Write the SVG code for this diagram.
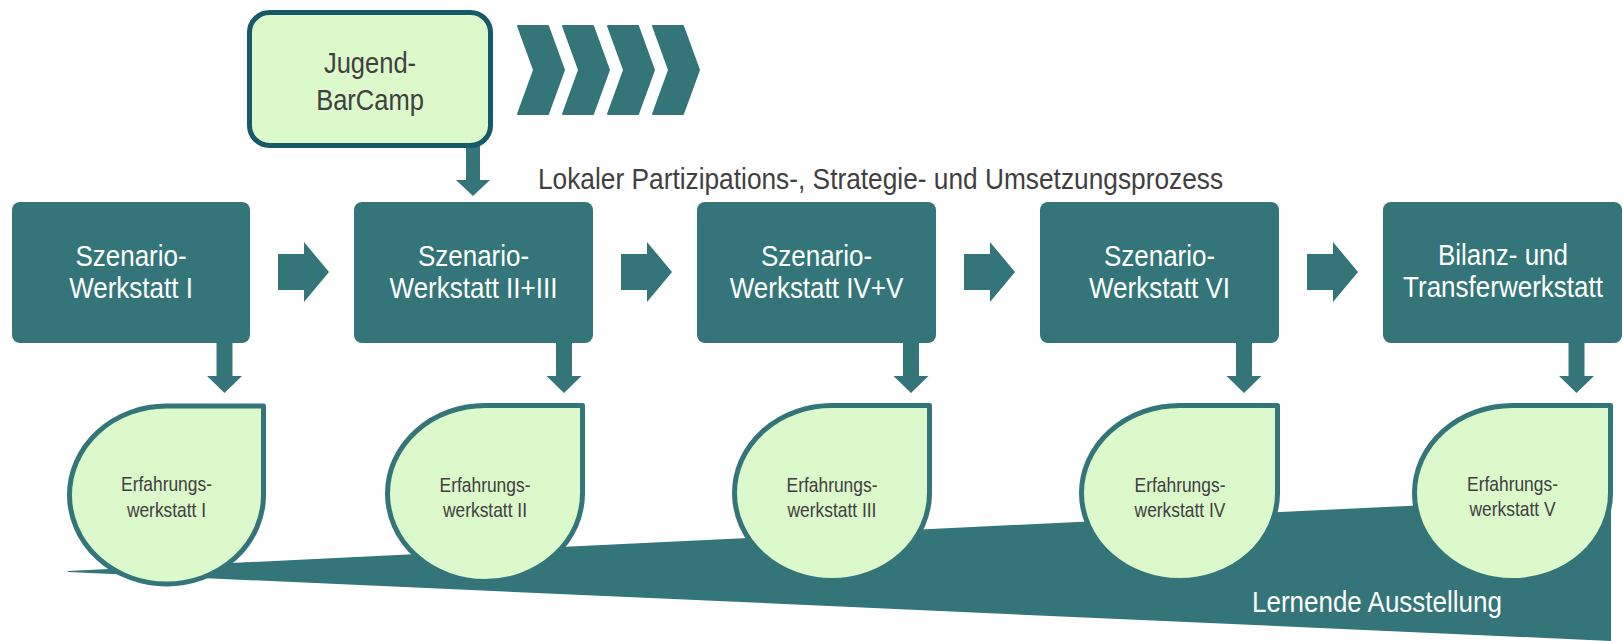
<svg xmlns="http://www.w3.org/2000/svg" width="1623" height="641" viewBox="0 0 1623 641">
<style>
.box{fill:#347579}
.tear{fill:#DBF9CA;stroke:#347579;stroke-width:5;stroke-linejoin:round}
.arr{fill:#347579}
.chev{fill:#347579;stroke:#347579;stroke-width:2;stroke-linejoin:round}
.wt{font-family:"Liberation Sans",Arial,sans-serif;font-size:26px;fill:#FFFFFF;text-anchor:middle}
.gt{font-family:"Liberation Sans",Arial,sans-serif;fill:#404040;text-anchor:middle}
.st{font-size:17.4px}
</style>
<rect width="1623" height="641" fill="#FFFFFF"/>
<g id="ribbon">
<polygon class="arr" points="68,571 1611,496 1611,641 68,572"/>
<text class="wt" style="text-anchor:start" transform="translate(1252,611.5) scale(1,1.15)" x="0" y="0">Lernende Ausstellung</text>
</g>
<g id="chevrons">
<polygon class="chev" points="518,26 548,26 564,70 548,114 518,114 534,70"/>
<polygon class="chev" points="563,26 593,26 609,70 593,114 563,114 579,70"/>
<polygon class="chev" points="608,26 638,26 654,70 638,114 608,114 624,70"/>
<polygon class="chev" points="653,26 683,26 699,70 683,114 653,114 669,70"/>
</g>
<g id="process-label">
<text class="gt" style="text-anchor:start;font-size:26.3px" transform="translate(538,188.5) scale(1,1.1)" x="0" y="0">Lokaler Partizipations-, Strategie- und Umsetzungsprozess</text>
</g>
<g id="connectors">
<polygon class="arr" points="466,145 480,145 480,180 490,180 473,196 456,180 466,180"/>
<polygon class="arr" points="278,254 304,254 304,242 329,272 304,302 304,290 278,290"/>
<polygon class="arr" points="621,254 647,254 647,242 672,272 647,302 647,290 621,290"/>
<polygon class="arr" points="964,254 990,254 990,242 1015,272 990,302 990,290 964,290"/>
<polygon class="arr" points="1307,254 1333,254 1333,242 1358,272 1333,302 1333,290 1307,290"/>
<polygon class="arr" points="216.5,343 232.5,343 232.5,376 242,376 224.5,393 207,376 216.5,376"/>
<polygon class="arr" points="556,343 572,343 572,376 581.5,376 564,393 546.5,376 556,376"/>
<polygon class="arr" points="903,343 919,343 919,376 928.5,376 911,393 893.5,376 903,376"/>
<polygon class="arr" points="1236,343 1252,343 1252,376 1261.5,376 1244,393 1226.5,376 1236,376"/>
<polygon class="arr" points="1568.5,343 1584.5,343 1584.5,376 1594,376 1576.5,393 1559,376 1568.5,376"/>
</g>
<g id="jugend-barcamp">
<rect x="249.5" y="12.5" width="241" height="133" rx="20" fill="#DBF9CA" stroke="#165A69" stroke-width="5"/>
<text class="gt" style="font-size:25.5px" transform="translate(370,73) scale(1,1.13)" x="0" y="0">Jugend-<tspan x="0" dy="32.7">BarCamp</tspan></text>
</g>
<g id="szenario-1">
<rect class="box" x="12" y="202" width="238" height="141" rx="8"/>
<text class="wt" transform="translate(131,266) scale(1,1.13)" x="0" y="0">Szenario-<tspan x="0" dy="28.3">Werkstatt I</tspan></text>
</g>
<g id="szenario-2">
<rect class="box" x="354" y="202" width="239" height="141" rx="8"/>
<text class="wt" transform="translate(473.5,266) scale(1,1.13)" x="0" y="0">Szenario-<tspan x="0" dy="28.3">Werkstatt II+III</tspan></text>
</g>
<g id="szenario-3">
<rect class="box" x="697" y="202" width="239" height="141" rx="8"/>
<text class="wt" transform="translate(816.5,266) scale(1,1.13)" x="0" y="0">Szenario-<tspan x="0" dy="28.3">Werkstatt IV+V</tspan></text>
</g>
<g id="szenario-4">
<rect class="box" x="1040" y="202" width="239" height="141" rx="8"/>
<text class="wt" transform="translate(1159.5,266) scale(1,1.13)" x="0" y="0">Szenario-<tspan x="0" dy="28.3">Werkstatt VI</tspan></text>
</g>
<g id="bilanz">
<rect class="box" x="1383" y="202" width="239" height="141" rx="8"/>
<text class="wt" transform="translate(1503,265) scale(1,1.13)" x="0" y="0">Bilanz- und<tspan x="0" dy="28.3">Transferwerkstatt</tspan></text>
</g>
<g id="erfahrung-1">
<path class="tear" d="M69.5,495 A97,89 0 0 1 166.5,406 L263.5,406 L263.5,495 A97,89 0 0 1 166.5,584 A97,89 0 0 1 69.5,495 Z"/>
<text class="gt st" transform="translate(166.5,491) scale(1,1.18)" x="0" y="0">Erfahrungs-<tspan x="0" dy="22">werkstatt I</tspan></text>
</g>
<g id="erfahrung-2">
<path class="tear" d="M387.5,493.5 A97.5,88 0 0 1 485,405.5 L582.5,405.5 L582.5,493.5 A97.5,88 0 0 1 485,581.5 A97.5,88 0 0 1 387.5,493.5 Z"/>
<text class="gt st" transform="translate(485,491.5) scale(1,1.18)" x="0" y="0">Erfahrungs-<tspan x="0" dy="21.2">werkstatt II</tspan></text>
</g>
<g id="erfahrung-3">
<path class="tear" d="M734.5,493 A97.5,87.5 0 0 1 832,405.5 L929.5,405.5 L929.5,493 A97.5,87.5 0 0 1 832,580.5 A97.5,87.5 0 0 1 734.5,493 Z"/>
<text class="gt st" transform="translate(832,491.5) scale(1,1.18)" x="0" y="0">Erfahrungs-<tspan x="0" dy="21.2">werkstatt III</tspan></text>
</g>
<g id="erfahrung-4">
<path class="tear" d="M1081.5,493 A98,87.5 0 0 1 1179.5,405.5 L1277.5,405.5 L1277.5,493 A98,87.5 0 0 1 1179.5,580.5 A98,87.5 0 0 1 1081.5,493 Z"/>
<text class="gt st" transform="translate(1180,491.5) scale(1,1.18)" x="0" y="0">Erfahrungs-<tspan x="0" dy="21.2">werkstatt IV</tspan></text>
</g>
<g id="erfahrung-5">
<path class="tear" d="M1414.5,493 A98,87.5 0 0 1 1512.5,405.5 L1610.5,405.5 L1610.5,493 A98,87.5 0 0 1 1512.5,580.5 A98,87.5 0 0 1 1414.5,493 Z"/>
<text class="gt st" transform="translate(1512.5,490.5) scale(1,1.18)" x="0" y="0">Erfahrungs-<tspan x="0" dy="21.2">werkstatt V</tspan></text>
</g>
</svg>
